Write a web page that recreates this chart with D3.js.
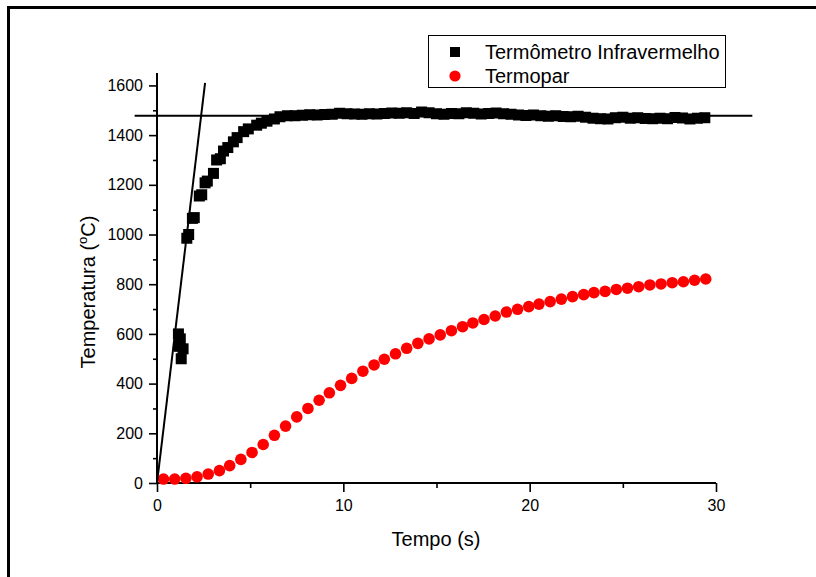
<!DOCTYPE html>
<html>
<head>
<meta charset="utf-8">
<script src="https://cdn.jsdelivr.net/npm/d3@7"></script>
<style>
  html, body { margin: 0; padding: 0; background: #fff; overflow: hidden; }
  svg { display: block; font-family: "Liberation Sans", Arial, sans-serif; }
</style>
</head>
<body>
<svg id="chart" width="816" height="577"></svg>
<script>
// Termômetro Infravermelho (black squares)
var irTime = [1.15, 1.25, 1.2, 1.4, 1.3, 1.6, 1.7, 1.9, 2.0, 2.27, 2.4, 2.58, 2.7, 3.03, 3.2, 3.4,
    3.57, 3.8, 4.1, 4.3, 4.65, 4.9, 5.35, 5.6, 5.9, 6.3, 6.6,
    7.0, 7.4, 7.8, 8.2, 8.6, 9.0, 9.4, 9.8, 10.2, 10.6, 11.0, 11.4, 11.8, 12.2, 12.6, 13.0,
    13.4, 13.8, 14.2, 14.6, 15.0, 15.4, 15.8, 16.2, 16.6, 17.0, 17.4, 17.8, 18.2, 18.6, 19.0,
    19.4, 19.8, 20.2, 20.6, 21.0, 21.4, 21.8, 22.2, 22.6, 23.0, 23.4, 23.8, 24.2, 24.6, 25.0,
    25.4, 25.8, 26.2, 26.6, 27.0, 27.4, 27.8, 28.2, 28.6, 29.0, 29.4];
var irTemp = [600, 580, 550, 540, 500, 985, 1000, 1065, 1068, 1155, 1160, 1208, 1215, 1246, 1300, 1305,
    1336, 1350, 1373, 1390, 1414, 1425, 1440, 1448, 1456, 1465, 1474,
    1478, 1478, 1480, 1482, 1481, 1483, 1484, 1488, 1486, 1485, 1484, 1486, 1485, 1487, 1489, 1488,
    1490, 1487, 1493, 1490, 1486, 1484, 1487, 1486, 1490, 1488, 1485, 1487, 1489, 1486, 1484,
    1481, 1479, 1481, 1478, 1476, 1478, 1475, 1474, 1476, 1472, 1468, 1466, 1465, 1470, 1472,
    1468, 1470, 1467, 1466, 1468, 1466, 1471, 1469, 1465, 1468, 1470];

// Termopar (red circles)
var tcTime = [0.35, 0.95, 1.55, 2.15, 2.75, 3.35, 3.9, 4.5, 5.1, 5.7, 6.3, 6.9, 7.5, 8.1, 8.7,
    9.25, 9.85, 10.45, 11.05, 11.65, 12.2, 12.8, 13.4, 14.0, 14.6, 15.2, 15.8, 16.4, 16.95,
    17.55, 18.15, 18.75, 19.35, 19.95, 20.5, 21.1, 21.7, 22.3, 22.9, 23.45, 24.05, 24.65,
    25.25, 25.85, 26.45, 27.05, 27.65, 28.25, 28.85, 29.45];
var tcTemp = [16, 16, 19, 25, 36, 50, 70, 95, 123, 155, 192, 229, 266, 300, 333,
    363, 393, 421, 450, 475, 498, 520, 542, 562, 580, 596, 613, 629, 644,
    658, 672, 688, 699, 710, 720, 730, 740, 750, 758, 766, 771, 779,
    784, 790, 797, 801, 806, 810, 816, 821];

// guide lines drawn over the data
var slopeLine = [[0, 0], [2.58, 1610]];
var plateauLine = [[-1.2, 1478], [31.95, 1478]];

var xMajor = [0, 10, 20, 30];
var xMinor = [5, 15, 25];
var yMajor = [0, 200, 400, 600, 800, 1000, 1200, 1400, 1600];
var yMinor = [100, 300, 500, 700, 900, 1100, 1300, 1500];

var legendLabels = ["Termômetro Infravermelho", "Termopar"];

var svg = d3.select('#chart');

// page frame, top and left edges as thin filled bars
svg.append('rect').attr('x', 7).attr('y', 6).attr('width', 809).attr('height', 3).attr('fill', 'black');
svg.append('rect').attr('x', 7).attr('y', 6).attr('width', 3).attr('height', 571).attr('fill', 'black');

var x = d3.scaleLinear().domain([0, 30]).range([157, 716]);
var y = d3.scaleLinear().domain([0, 1650]).range([483, 73]);

// x axis
var xAxisMinor = d3.axisBottom(x).tickValues(xMinor).tickSize(5).tickFormat('');
var xAxis = d3.axisBottom(x).tickValues(xMajor).tickSize(9).tickPadding(8).tickFormat(d3.format('d'));
svg.append('g').attr('transform', 'translate(0,483)').call(xAxisMinor);
svg.append('g').attr('transform', 'translate(0,483)').call(xAxis)
    .style('font-size', '16px');

// y axis
var yAxisMinor = d3.axisLeft(y).tickValues(yMinor).tickSize(4).tickFormat('');
var yAxis = d3.axisLeft(y).tickValues(yMajor).tickSize(8).tickPadding(6).tickFormat(d3.format('d'));
svg.append('g').attr('transform', 'translate(157,0)').call(yAxisMinor);
svg.append('g').attr('transform', 'translate(157,0)').call(yAxis)
    .style('font-size', '16px');

svg.selectAll('.domain').remove();
svg.selectAll('.tick line').attr('stroke-width', 1.6);
svg.selectAll('.tick text').attr('fill', 'black').style('font-family', '"Liberation Sans", Arial, sans-serif');

// axis lines
svg.append('line').attr('x1', x(0)).attr('x2', x(30)).attr('y1', y(0)).attr('y2', y(0))
    .attr('stroke', 'black').attr('stroke-width', 2);
svg.append('line').attr('x1', x(0)).attr('x2', x(0)).attr('y1', y(0)).attr('y2', y(1650))
    .attr('stroke', 'black').attr('stroke-width', 2);

// axis titles
svg.append('text')
    .attr('x', 436)
    .attr('y', 546)
    .attr('text-anchor', 'middle')
    .style('font-size', '20px')
    .text('Tempo (s)');

var yt = svg.append('text')
    .attr('transform', 'translate(95,292) rotate(-90)')
    .attr('text-anchor', 'middle')
    .style('font-size', '20px');
yt.append('tspan').text('Temperatura (');
yt.append('tspan').attr('dy', -8).style('font-size', '13px').text('o');
yt.append('tspan').attr('dy', 8).text('C)');

var line = d3.line().x(function (d) { return x(d[0]); }).y(function (d) { return y(d[1]); });

// black squares
var irData = irTime.map(function (t, i) { return { t: t, v: irTemp[i] }; });
svg.selectAll('rect.ir')
    .data(irData)
    .enter().append('rect')
    .attr('class', 'ir')
    .attr('x', function (d) { return x(d.t) - 5.5; })
    .attr('y', function (d) { return y(d.v) - 5.5; })
    .attr('width', 11)
    .attr('height', 11)
    .attr('fill', 'black');

// red circles
var tcData = tcTime.map(function (t, i) { return { t: t, v: tcTemp[i] }; });
svg.selectAll('circle.tc')
    .data(tcData)
    .enter().append('circle')
    .attr('class', 'tc')
    .attr('cx', function (d) { return x(d.t); })
    .attr('cy', function (d) { return y(d.v); })
    .attr('r', 5.8)
    .attr('fill', '#ff0000');

svg.append('path').attr('d', line(slopeLine))
    .attr('fill', 'none').attr('stroke', 'black').attr('stroke-width', 2);
svg.append('path').attr('d', line(plateauLine))
    .attr('fill', 'none').attr('stroke', 'black').attr('stroke-width', 2);

// legend
var lg = svg.append('g');
lg.append('rect')
    .attr('x', 428.5).attr('y', 35.5)
    .attr('width', 297).attr('height', 52)
    .attr('fill', 'white').attr('stroke', 'black').attr('stroke-width', 1);
lg.append('rect').attr('x', 450).attr('y', 47).attr('width', 10).attr('height', 10).attr('fill', 'black');
lg.append('circle').attr('cx', 455).attr('cy', 76).attr('r', 5.6).attr('fill', '#ff0000');
lg.selectAll('text.lg')
    .data(legendLabels)
    .enter().append('text')
    .attr('class', 'lg')
    .attr('x', 485)
    .attr('y', function (d, i) { return 59 + i * 24; })
    .style('font-size', '20px')
    .text(function (d) { return d; });
</script>
</body>
</html>
